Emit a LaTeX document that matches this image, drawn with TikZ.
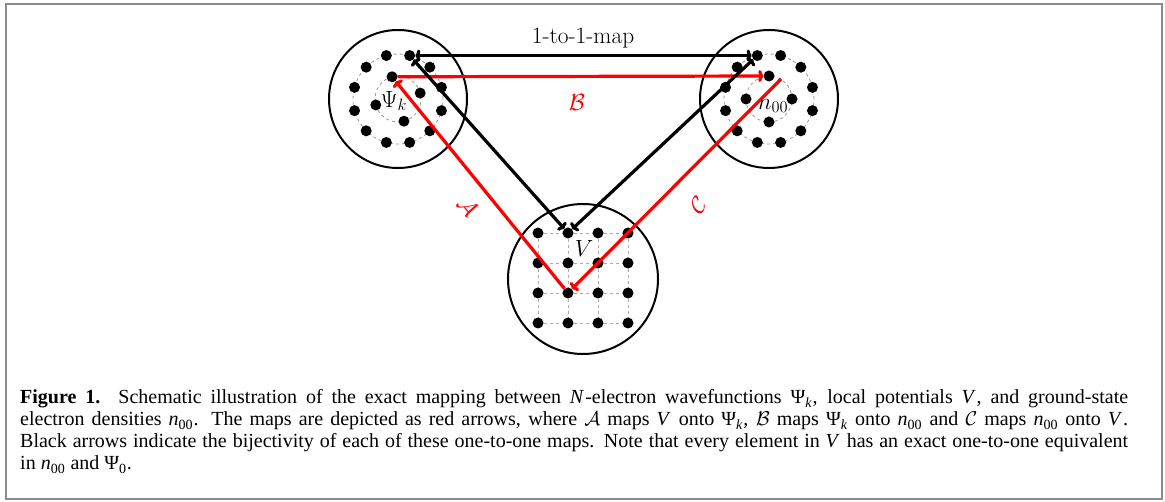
\documentclass[tikz,border=0pt]{standalone}
\usepackage{fix-cm}
\usepackage{fontspec}
\newfontfamily\capfont{Liberation Serif}
\usetikzlibrary{arrows.meta}
\newcommand{\lsub}[1]{\raisebox{-4pt}{\fontsize{14}{14}\selectfont #1}\kern0.8pt\relax}
\newcommand{\ivar}[1]{\textit{#1}\kern1pt\relax}
\begin{document}
\begin{tikzpicture}[x=1pt,y=-1pt,
  bigcirc/.style={circle,draw,line width=2pt,minimum size=138pt,inner sep=0pt},
  dot/.style={circle,fill,inner sep=0pt,minimum size=11pt},
  ring/.style={draw=gray!80,dashed,line width=0.8pt},
  gridline/.style={draw=gray!65,dashed,line width=0.8pt},
  blk/.style={line width=3.2pt,{To[length=5pt,width=12pt]}-{To[length=5pt,width=12pt]}},
  redarr/.style={red,line width=3.2pt,-{To[length=5pt,width=12pt]}},
  lab/.style={font=\fontsize{23.4}{28}\selectfont,inner sep=0pt},
  captext/.style={anchor=base west,inner sep=0pt,font=\capfont\fontsize{20}{22}\selectfont}
]
\useasboundingbox (0,0) rectangle (1165,502);
\draw[black!45,line width=1.8pt] (6,4) rectangle (1162,499);

% circles
\node[bigcirc] (Lc) at (398,99) {};
\node[bigcirc] (Rc) at (769,99) {};
\node[bigcirc,minimum size=150pt] (Bc) at (583,279) {};

% dashed rings
\draw[ring] (Lc.center) circle[radius=45pt];
\draw[ring] (Lc.center) circle[radius=23pt];
\draw[ring] (Rc.center) circle[radius=45pt];
\draw[ring] (Rc.center) circle[radius=23pt];

% dots on rings
\foreach \a in {15,45,...,345} {
  \node[dot] (Lo\a) at ([shift={(\a:45pt)}]Lc.center) {};
  \node[dot] (Ro\a) at ([shift={(\a:45pt)}]Rc.center) {};
}
\foreach \a in {15,105,195,285}
  \node[dot] (Li\a) at ([shift={(\a:23pt)}]Lc.center) {};
\foreach \a in {0,90,180,270}
  \node[dot] (Ri\a) at ([shift={(\a:23pt)}]Rc.center) {};

% grid
\foreach \i/\y in {1/233,2/263,3/293,4/323}
  \foreach \j/\x in {1/538,2/568,3/598,4/628}
    \coordinate (g\i\j) at (\x,\y);
\foreach \i in {1,2,3,4} {
  \draw[gridline] (g\i1) -- (g\i4);
  \draw[gridline] (g1\i) -- (g4\i);
}
\foreach \i in {1,2,3,4}
  \foreach \j in {1,2,3,4}
    \node[dot] (G\i\j) at (g\i\j) {};

% labels inside
\node[lab] (psi) at (394,101) {$\Psi_k$};
\node[lab] (nzz) at (773,106) {$n_{00}$};
\node[lab] (vv) at (584,249) {$V$};

% arrows
\draw[blk] (Lo75) -- (Ro105);
\node[lab] (map) at (583,38) {1-to-1-map};
\draw[redarr] (Li105) -- (Ri90);
\draw[blk] (Lo75) -- (G12);
\draw[blk] (Ro105) -- (G12);
\draw[redarr] (G32) -- (Li105);
\coordinate (Cs) at (781,79);
\draw[redarr] (Cs) -- (G32);

\node[lab,text=red] (labB) at (577,103) {$\mathcal{B}$};
\node[lab,text=red,rotate=-50] (labA) at (468,207) {$\mathcal{A}$};
\node[lab,text=red,rotate=46] (labC) at (698,205) {$\mathcal{C}$};

% caption
\node[captext] (c1) at (20,404) {\makebox[1108pt][s]{\textbf{Figure 1.} Schematic illustration of the exact mapping between \ivar{N}-electron wavefunctions Ψ\lsub{\textit{k}}, local potentials \ivar{V}, and ground-state}};
\node[captext] (c2) at (20,426) {\makebox[1108pt][s]{electron densities \textit{n}\lsub{00}. The maps are depicted as red arrows, where $\mathcal{A}$ maps \ivar{V} onto Ψ\lsub{\textit{k}}, $\mathcal{B}$ maps Ψ\lsub{\textit{k}} onto \textit{n}\lsub{00} and $\mathcal{C}$ maps \textit{n}\lsub{00} onto \ivar{V}.}};
\node[captext] (c3) at (20,448) {\makebox[1108pt][s]{Black arrows indicate the bijectivity of each of these one-to-one maps. Note that every element in \ivar{V} has an exact one-to-one equivalent}};
\node[captext] (c4) at (20,470) {in \textit{n}\lsub{00} and Ψ\lsub{0}.};
\end{tikzpicture}
\end{document}
